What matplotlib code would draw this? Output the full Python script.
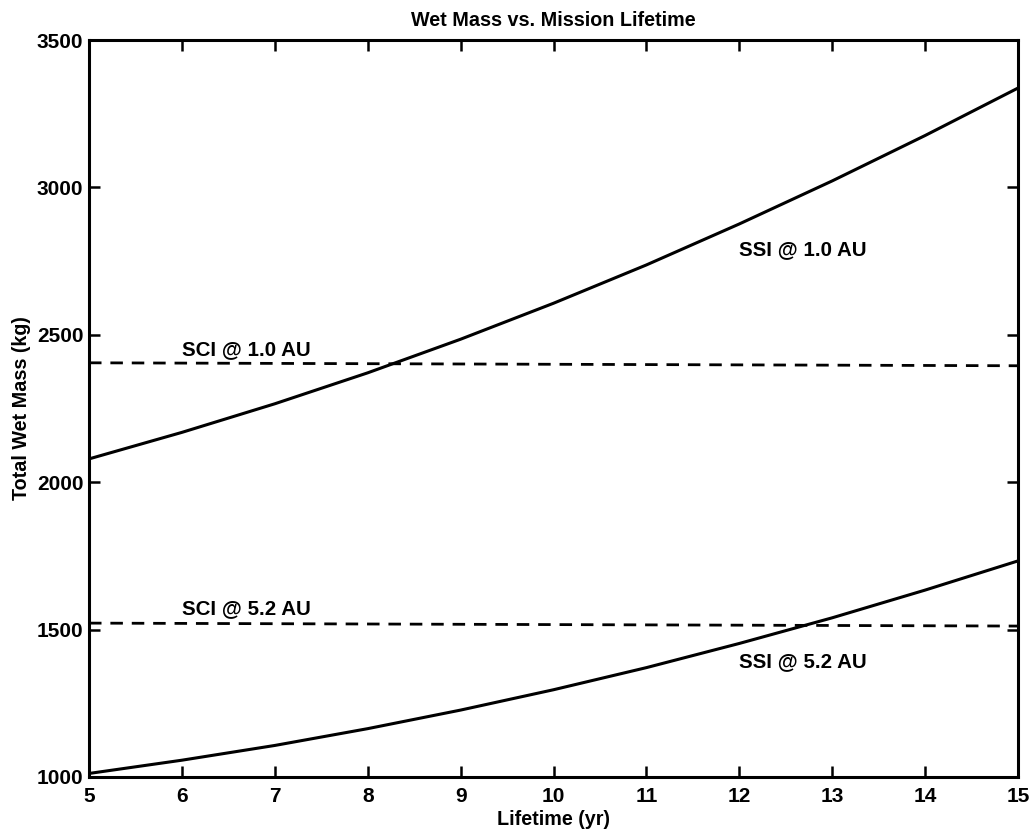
import matplotlib
matplotlib.use("Agg")
import matplotlib.pyplot as plt

plt.rcParams['font.family'] = ['Liberation Sans', 'DejaVu Sans']

# Mission lifetime (years)
lifetime = [5, 6, 7, 8, 9, 10, 11, 12, 13, 14, 15]

# Total wet mass (kg) for solar-sail-based (SSI) designs
ssi_1au = [2079, 2169, 2266, 2371, 2485, 2607, 2737, 2876, 3022, 3176, 3337]
ssi_52au = [1012, 1057, 1107, 1164, 1227, 1296, 1371, 1453, 1540, 1634, 1733]

# Chemical (SCI) designs: mass independent of lifetime
sci_x = [5, 15]
sci_1au = [2405, 2395]
sci_52au = [1522, 1512]

labels = [
    ("SCI @ 1.0 AU", 6.0, 2450),
    ("SCI @ 5.2 AU", 6.0, 1573),
    ("SSI @ 1.0 AU", 12.0, 2790),
    ("SSI @ 5.2 AU", 12.0, 1390),
]

fig = plt.figure(figsize=(10.30, 8.35), dpi=100)
ax = fig.add_axes([89 / 1030, 1 - 777 / 835, (1018 - 89) / 1030, (777 - 40) / 835])

lw = 2.2
ax.plot(lifetime, ssi_1au, color='black', lw=lw)
ax.plot(lifetime, ssi_52au, color='black', lw=lw)
ax.plot(sci_x, sci_1au, color='black', lw=2.0, linestyle=(0, (4.5, 3.2)))
ax.plot(sci_x, sci_52au, color='black', lw=2.0, linestyle=(0, (4.5, 3.2)))

for txt, x, y in labels:
    ax.text(x, y, txt, fontsize=14.8, fontweight='bold', ha='left', va='center')

ax.set_xlim(5, 15)
ax.set_ylim(1000, 3500)
ax.set_xticks(range(5, 16))
ax.set_yticks(range(1000, 3501, 500))

for s in ax.spines.values():
    s.set_linewidth(2.2)

ax.tick_params(direction='in', length=8, width=1.8, top=True, right=True,
               labelsize=15)
ax.tick_params(axis='x', pad=7)
ax.tick_params(axis='y', pad=4)
for lab in ax.get_xticklabels() + ax.get_yticklabels():
    lab.set_fontweight('bold')

ax.set_title("Wet Mass vs. Mission Lifetime", fontsize=14.2, fontweight='bold', pad=10)
ax.set_xlabel("Lifetime (yr)", fontsize=14.2, fontweight='bold', labelpad=3)
ax.set_ylabel("Total Wet Mass (kg)", fontsize=14.2, fontweight='bold', labelpad=4)

fig.savefig("out.png", dpi=100, facecolor='white')
